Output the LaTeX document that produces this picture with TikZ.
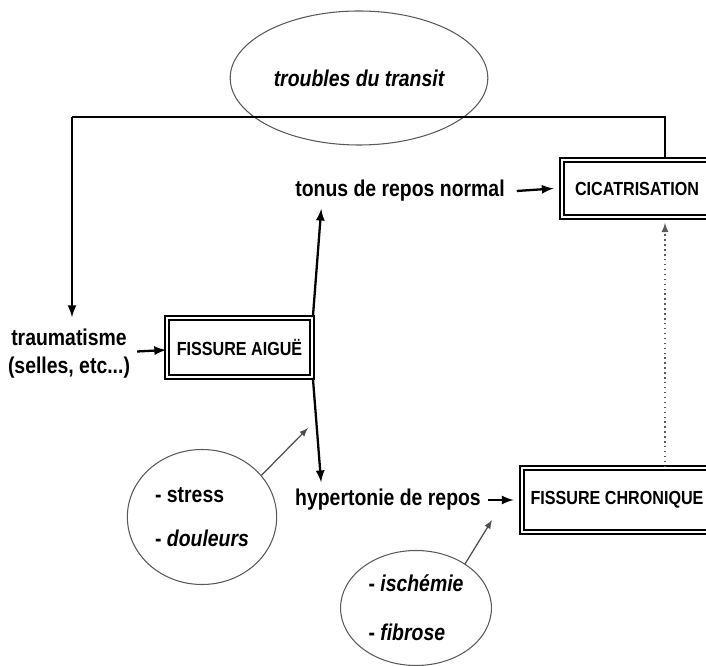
\documentclass[tikz,border=0pt]{standalone}
\usepackage{fontspec}
\setmainfont[FakeStretch=0.85]{Liberation Sans}
\usetikzlibrary{shapes.geometric}
\begin{document}
\begin{tikzpicture}[
  texte/.style={font=\fontsize{13}{16}\selectfont\bfseries, align=center, inner sep=1pt},
  boite/.style={draw, line width=1pt, double=white, double distance=1.1pt, font=\fontsize{10.8}{12}\selectfont\bfseries},
  bulle/.style={draw, ellipse, gray!70!black, line width=0.6pt, text=black, font=\fontsize{13}{25}\selectfont\bfseries, align=left},
  fleche/.style={-latex, line width=1.3pt},
  fin/.style={-latex, line width=0.7pt, gray!60!black}]
\useasboundingbox (0,0) rectangle (14.12,-13.32);
\node [bulle, minimum width=4.16cm, minimum height=2.68cm] (transit) at (7.18,-1.56) {\itshape troubles du transit};
\node [boite, minimum width=3cm, minimum height=1.14cm] (cic) at (12.74,-3.77) {CICATRISATION};
\node [texte] (tonus) at (8,-3.82) {tonus de repos normal};
\node [texte] (trauma) at (1.38,-7.08) {traumatisme\\(selles, etc...)};
\node [boite, minimum width=2.9cm, minimum height=1.18cm] (fa) at (4.79,-6.95) {FISSURE AIGUË};
\node [texte] (hyp) at (7.76,-10) {hypertonie de repos};
\node [boite, minimum width=3.8cm, minimum height=1.28cm] (fc) at (12.34,-10) {FISSURE CHRONIQUE};
\node [bulle, minimum width=2.6cm, minimum height=2.7cm] (stress) at (4.04,-10.34) {- stress\\- \textit{douleurs}};
\node [bulle, minimum width=2.84cm, minimum height=2.3cm, font=\fontsize{13}{28}\selectfont\bfseries] (isch) at (8.32,-12.16) {- \textit{ischémie}\\- \textit{fibrose}};
\coordinate (haut) at (13.3,-2.34);
\coordinate (gauche) at (1.44,-2.34);
\coordinate (pstress) at (6.16,-8.56);
\coordinate (pisch) at (9.84,-10.4);

\draw [line width=1.3pt] (cic.north -| haut) -- (haut) -- (gauche);
\draw [fleche, shorten >=0.2cm] (gauche) -- (gauche |- trauma.north);
\draw [fleche] (trauma.east) ++(0.1,0.05) -- ([yshift=-0.05cm]fa.west);
\draw [fleche] (fa.north east) -- ([xshift=0.56cm,yshift=-0.1cm]tonus.south west);
\draw [fleche] (fa.south east) -- ([xshift=0.56cm,yshift=0.1cm]hyp.north west);
\draw [fleche] ([xshift=0.2cm]tonus.east) -- ([xshift=-0.15cm]cic.west);
\draw [fleche] ([xshift=0.1cm]hyp.east) -- ([xshift=-0.15cm]fc.west);
\draw [-latex, line width=0.8pt, dotted, gray!70!black] (fc.north -| haut) -- ([yshift=-0.1cm]cic.south -| haut);
\draw [fin] (stress.35) -- (pstress);
\draw [fin] (isch.42) -- (pisch);
\end{tikzpicture}
\end{document}
